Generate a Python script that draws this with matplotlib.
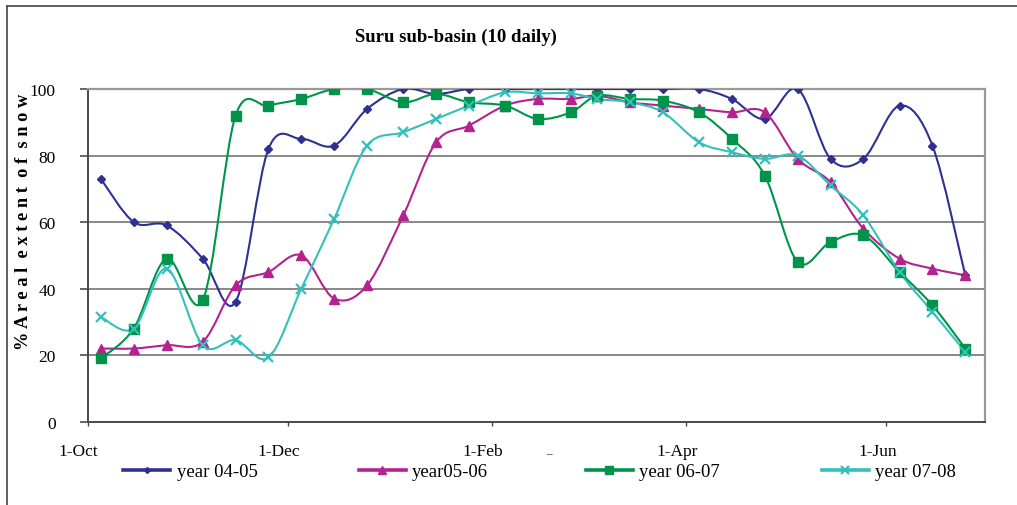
import numpy as np
import pandas as pd
import matplotlib
matplotlib.use("Agg")
import matplotlib.pyplot as plt
import matplotlib.dates as mdates
from matplotlib.path import Path
from matplotlib.patches import PathPatch
from matplotlib.lines import Line2D
from matplotlib.transforms import ScaledTranslation

# ---- data: 10-daily snow cover, Suru sub-basin -------------------------
dekad_dates = ["2004-10-05", "2004-10-15", "2004-10-25",
               "2004-11-05", "2004-11-15", "2004-11-25",
               "2004-12-05", "2004-12-15", "2004-12-25",
               "2005-01-05", "2005-01-15", "2005-01-25",
               "2005-02-05", "2005-02-15", "2005-02-25",
               "2005-03-05", "2005-03-15", "2005-03-25",
               "2005-04-05", "2005-04-15", "2005-04-25",
               "2005-05-05", "2005-05-15", "2005-05-25",
               "2005-06-05", "2005-06-15", "2005-06-25"]

year_04_05 = [73, 60, 59, 49, 36, 82, 85, 83, 94, 100, 98.5, 100, 100, 100, 100,
              100, 100, 100, 100, 97, 91, 100, 79, 79, 95, 83, 44]
year_05_06 = [22, 22, 23, 24, 41, 45, 50, 37, 41, 62, 84, 89, 95, 97, 97,
              98, 96, 95, 94, 93, 93, 79, 72, 58, 49, 46, 44]
year_06_07 = [19, 28, 49, 36.5, 92, 95, 97, 100, 100, 96, 98.5, 96, 95, 91, 93,
              98, 97, 96.5, 93, 85, 74, 48, 54, 56, 45, 35, 22]
year_07_08 = [31.5, 28, 46, 23, 24.5, 19.3, 40, 61, 83, 87, 91, 95, 99, 98.7, 98.7,
              97, 96, 93, 84, 81, 79, 80, 71, 62, 45, 33, 21]

series_labels = ["year 04-05", "year05-06", "year 06-07", "year 07-08"]
tick_dates = ["2004-10-01", "2004-12-01", "2005-02-01", "2005-04-01", "2005-06-01"]
tick_labels = ["1-Oct", "1-Dec", "1-Feb", "1-Apr", "1-Jun"]
y_ticks = [0, 20, 40, 60, 80, 100]

colors = ["#2E3192", "#B3228F", "#00944A", "#33C0BC"]
markers = [dict(marker="D", ms=3.8), dict(marker="^", ms=6.5),
           dict(marker="s", ms=6.5), dict(marker="x", ms=7, mew=1.6)]

SERIF = ["Liberation Serif", "DejaVu Serif"]
plt.rcParams["font.family"] = SERIF

W, H = 1017, 506
fig = plt.figure(figsize=(W / 100, H / 100), dpi=100)
ax = fig.add_axes([87.7 / W, 1 - 422.7 / H, (985 - 87.7) / W, (422.7 - 90) / H])

x = mdates.date2num(pd.to_datetime(dekad_dates))


def smooth_path(xs, ys):
    """Cubic Bezier path through the points (Catmull-Rom style smoothing)."""
    pts = np.column_stack([xs, ys]).astype(float)
    n = len(pts)
    verts = [pts[0]]
    codes = [Path.MOVETO]
    for i in range(n - 1):
        p0 = pts[i - 1] if i > 0 else pts[i]
        p1, p2 = pts[i], pts[i + 1]
        p3 = pts[i + 2] if i + 2 < n else pts[i + 1]
        verts += [p1 + (p2 - p0) / 6.0, p2 - (p3 - p1) / 6.0, p2]
        codes += [Path.CURVE4] * 3
    return Path(verts, codes)


all_series = [year_04_05, year_05_06, year_06_07, year_07_08]
for vals, col, mk in zip(all_series, colors, markers):
    ax.add_patch(PathPatch(smooth_path(x, vals), fill=False, ec=col, lw=1.5,
                           zorder=3, capstyle="round", joinstyle="round"))
    ax.plot(x, vals, ls="none", color=col, mec=col, mfc=col, zorder=4, **mk)

# ---- axes styling ------------------------------------------------------
ax.set_xlim(mdates.date2num(pd.Timestamp("2004-10-01")),
            mdates.date2num(pd.Timestamp("2005-07-01")))
ax.set_ylim(0, 100)
ax.set_yticks(y_ticks)
ax.set_yticklabels([str(v) for v in y_ticks])
ax.set_xticks(mdates.date2num(pd.to_datetime(tick_dates)))
ax.set_xticklabels(tick_labels)

ax.yaxis.grid(True, color="#888888", lw=1.4)
ax.set_axisbelow(True)
for side in ["left", "bottom"]:
    ax.spines[side].set_color("#4a4a4a")
    ax.spines[side].set_linewidth(1.4)
for side in ["top", "right"]:
    ax.spines[side].set_color("#999999")
    ax.spines[side].set_linewidth(1.6)

ax.tick_params(axis="y", length=6, width=1.2, color="#4a4a4a", pad=17,
               labelsize=12.5)
ax.tick_params(axis="x", length=3, width=1.0, color="#4a4a4a", pad=12,
               labelsize=12.5)
shift = ScaledTranslation(-9 / 100, 0, fig.dpi_scale_trans)
for lab in ax.get_xticklabels():
    lab.set_transform(lab.get_transform() + shift)

# ---- title and axis label ----------------------------------------------
fig.text(455.8 / W, 1 - 37 / H, "Suru sub-basin (10 daily)", ha="center",
         va="center", fontsize=13.5, fontweight="bold")
fig.text(24 / W, 1 - 222 / H, "% A r e a l  e x t e n t  o f  s n o w",
         rotation=90, ha="center", va="center", fontsize=13.2,
         fontweight="bold")
fig.text(549 / W, 1 - 451 / H, "_", ha="center", va="center", fontsize=8)

# ---- legend below the plot ---------------------------------------------
legend_x = [123.2, 358.7, 585.8, 821.9]
for lab, col, mk, lx in zip(series_labels, colors, markers, legend_x):
    h = Line2D([], [], color=col, lw=2.6, mec=col, mfc=col,
               **{k: (v * 0.8 if k == "ms" else v) for k, v in mk.items()})
    fig.legend([h], [lab], loc="center left",
               bbox_to_anchor=(lx / W, 1 - 472.7 / H), frameon=False,
               fontsize=13.5, handlelength=2.5, handletextpad=0.35,
               borderpad=0, borderaxespad=0)

# outer frame (left and top edges)
fig.add_artist(Line2D([7 / W, 7 / W], [0, 1 - 7 / H], color="#444444", lw=1.2))
fig.add_artist(Line2D([7 / W, 1], [1 - 7 / H, 1 - 7 / H], color="#444444", lw=1.2))

fig.savefig("out.png", dpi=100)
